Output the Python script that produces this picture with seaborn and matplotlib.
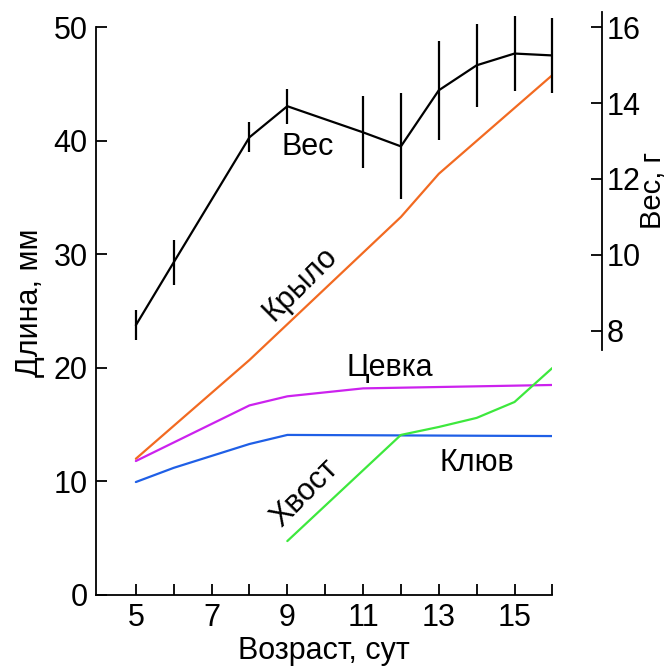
import matplotlib
matplotlib.use("Agg")
import matplotlib.pyplot as plt
import seaborn as sns

# Длина, мм (left axis)
wing_x = [5, 8, 12, 13, 16]
wing_y = [12.0, 20.7, 33.3, 37.1, 45.8]
tarsus_x = [5, 8, 9, 11, 16]
tarsus_y = [11.8, 16.7, 17.5, 18.2, 18.5]
beak_x = [5, 6, 8, 9, 16]
beak_y = [9.95, 11.2, 13.3, 14.1, 14.0]
tail_x = [9, 12, 13, 14, 15, 16]
tail_y = [4.75, 14.1, 14.8, 15.6, 17.0, 20.0]

# Вес, г (right axis)
weight_x = [5, 6, 8, 9, 11, 12, 13, 14, 15, 16]
weight_y = [8.14, 9.8, 13.1, 13.92, 13.23, 12.86, 14.34, 15.0, 15.31, 15.26]
weight_err = [0.4, 0.6, 0.4, 0.46, 0.95, 1.4, 1.3, 1.1, 1.0, 1.0]

sns.set_style("ticks")
plt.rcParams['font.family'] = ['Liberation Sans', 'DejaVu Sans']
plt.rcParams['font.size'] = 22
plt.rcParams['text.color'] = 'black'
plt.rcParams['axes.labelcolor'] = 'black'
plt.rcParams['xtick.color'] = 'black'
plt.rcParams['ytick.color'] = 'black'
plt.rcParams['axes.edgecolor'] = 'black'

fig = plt.figure(figsize=(6.72, 6.72), dpi=100)
ax = fig.add_axes([0.143, 0.1146, 0.679, 0.870])

lw = 1.6
sns.lineplot(x=wing_x, y=wing_y, ax=ax, color='#f26a21', lw=lw)
sns.lineplot(x=tarsus_x, y=tarsus_y, ax=ax, color='#cc22ee', lw=lw)
sns.lineplot(x=beak_x, y=beak_y, ax=ax, color='#1f5fe6', lw=lw)
sns.lineplot(x=tail_x, y=tail_y, ax=ax, color='#3de83d', lw=lw)

ax.set_xlim(3.95, 16)
ax.set_ylim(0, 51.5)
ax.spines['left'].set_bounds(0, 50)
ax.spines['top'].set_visible(False)
ax.spines['right'].set_visible(False)
ax.set_yticks([0, 10, 20, 30, 40, 50])
ax.set_xticks(list(range(5, 17)))
ax.set_xticklabels([str(d) if d % 2 == 1 and d < 16 else '' for d in range(5, 17)])
ax.tick_params(direction='in', length=8, width=1.3, labelsize=22, pad=6)
for s in ax.spines.values():
    s.set_linewidth(1.3)
ax.set_xlabel('Возраст, сут', fontsize=22, labelpad=2)
ax.set_ylabel('Длина, мм', fontsize=22, labelpad=6)

ax2 = ax.twinx()
sns.lineplot(x=weight_x, y=weight_y, ax=ax2, color='black', lw=lw)
ax2.errorbar(weight_x, weight_y, yerr=weight_err, fmt='none', ecolor='black',
             elinewidth=lw, capsize=0, clip_on=False)
ax2.set_ylim(1.02, 16.45)
for side in ['top', 'left', 'bottom']:
    ax2.spines[side].set_visible(False)
ax2.spines['right'].set_position(('outward', 36))
ax2.spines['right'].set_bounds(7.48, 16.4)
ax2.spines['right'].set_linewidth(1.3)
ax2.set_yticks([8, 10, 12, 14, 16])
ax2.tick_params(direction='in', length=8, width=1.3, labelsize=22, pad=3)
ax2.set_ylabel('Вес, г', fontsize=21)
ax2.yaxis.set_label_coords(1.189, 0.692)

ax2.text(9.55, 12.85, 'Вес', fontsize=22, ha='center', va='center')
ax.text(9.35, 27.4, 'Крыло', fontsize=22, ha='center', va='center', rotation=45)
ax.text(11.7, 20.0, 'Цевка', fontsize=22, ha='center', va='center')
ax.text(14.0, 11.6, 'Клюв', fontsize=22, ha='center', va='center')
ax.text(9.45, 9.0, 'Хвост', fontsize=22, ha='center', va='center', rotation=45)

fig.savefig('out.png', dpi=100)
